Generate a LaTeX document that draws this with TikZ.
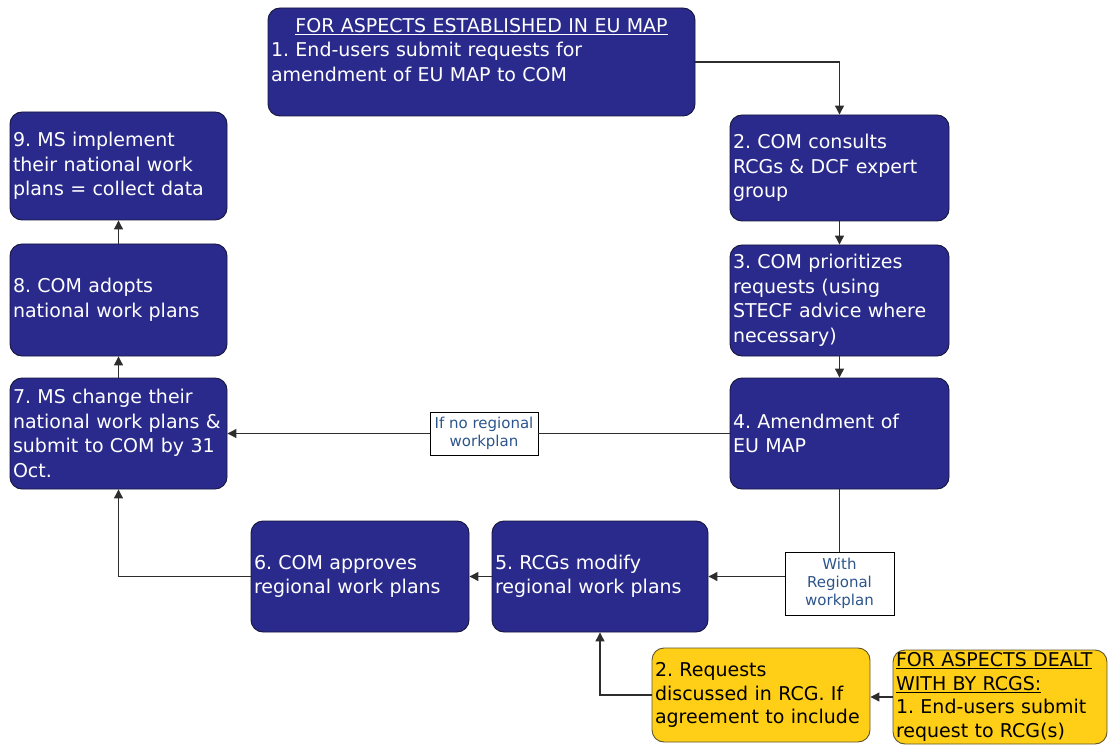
\documentclass[tikz,border=0pt]{standalone}
\usepackage{fontspec}
\setmainfont{DejaVu Sans}
\usetikzlibrary{arrows.meta}
\frenchspacing

\definecolor{mapblue}{RGB}{42,42,140}
\definecolor{mapedge}{RGB}{22,22,60}
\definecolor{rcgyellow}{RGB}{255,206,22}
\definecolor{rcgedge}{RGB}{95,85,45}
\definecolor{lbltext}{RGB}{45,85,140}
\definecolor{flowline}{RGB}{45,45,45}

\tikzset{
	stepblue/.style={draw=mapedge, line width=0.9pt, fill=mapblue, text=white, rounded corners=12pt,
		align=left, inner xsep=3pt, inner ysep=0pt, font=\fontsize{19}{24.5}\selectfont},
	stepyellow/.style={draw=rcgedge, line width=0.9pt, fill=rcgyellow, text=black, rounded corners=12pt,
		align=left, inner xsep=3pt, inner ysep=0pt, font=\fontsize{19}{23.5}\selectfont},
	lblbox/.style={draw=black, line width=0.9pt, fill=white, text=lbltext, align=center,
		inner sep=1pt, font=\fontsize{15}{18}\selectfont},
	flow/.style={draw=flowline, line width=1.2pt, -{Triangle[length=9pt,width=9pt]}},
	plainflow/.style={draw=flowline, line width=1.2pt}
}

\begin{document}
\begin{tikzpicture}[x=1pt, y=-1pt]
			%%%%% START %%%%%
			\useasboundingbox (0, 0) rectangle (1109, 746);
			
			\node[stepblue, minimum width=427pt, minimum height=108pt, text width=421pt] (b1) at (481.5, 62)
				{\makebox[\linewidth]{\underline{FOR ASPECTS ESTABLISHED IN EU MAP}}\\ 1. End-users submit requests for\\ amendment of EU MAP to COM\\ \mbox{}};
			
			\node[stepblue, minimum width=219pt, minimum height=106pt, text width=213pt] (b2) at (839.5, 168)
				{2. COM consults\\ RCGs \& DCF expert\\ group};
			\node[stepblue, minimum width=219pt, minimum height=111pt, text width=213pt] (b3) at (839.5, 300.5)
				{3. COM prioritizes\\ requests (using\\ STECF advice where\\ necessary)};
			\node[stepblue, minimum width=219pt, minimum height=111pt, text width=213pt] (b4) at (839.5, 433.5)
				{4. Amendment of\\ EU MAP};
			
			\node[stepblue, minimum width=216pt, minimum height=111pt, text width=210pt] (b5) at (600, 576.5)
				{5. RCGs modify\\ regional work plans};
			\node[stepblue, minimum width=218pt, minimum height=111pt, text width=212pt] (b6) at (360, 576.5)
				{6. COM approves\\ regional work plans};
			
			\node[stepblue, minimum width=217pt, minimum height=111pt, text width=211pt] (b7) at (118.5, 433.5)
				{7. MS change their\\ national work plans \&\\ submit to COM by 31\\ Oct.};
			\node[stepblue, minimum width=217pt, minimum height=112pt, text width=211pt] (b8) at (118.5, 300)
				{8. COM adopts\\ national work plans};
			\node[stepblue, minimum width=217pt, minimum height=108pt, text width=211pt] (b9) at (118.5, 166)
				{9. MS implement\\ their national work\\ plans = collect data};
			
			\node[stepyellow, minimum width=218pt, minimum height=94pt, text width=212pt] (y2) at (761, 695)
				{2. Requests\\ discussed in RCG. If\\ agreement to include};
			\node[stepyellow, minimum width=214pt, minimum height=94pt, text width=208pt] (y1) at (1000, 697)
				{\underline{FOR ASPECTS DEALT}\\ \underline{WITH BY RCGS:}\\ 1. End-users submit\\ request to RCG(s)};
			
			\node[lblbox, minimum width=108pt, minimum height=43pt] (nolbl) at (484, 433.5)
				{If no regional\\ workplan};
			\node[lblbox, minimum width=109pt, minimum height=63pt] (withlbl) at (839.5, 583.5)
				{With\\ Regional\\ workplan};
			
			%% connectors
			\draw[flow] (b1.east) -| (b2.north);
			\draw[flow] (b2.south) -- (b3.north);
			\draw[flow] (b3.south) -- (b4.north);
			\draw[plainflow] (b4.west) -- (nolbl.east);
			\draw[flow] (nolbl.west) -- (b7.east);
			\draw[plainflow] (b4.south) -- (withlbl.north);
			\draw[flow] (withlbl.west |- b5.east) -- (b5.east);
			\draw[flow] (b5.west) -- (b6.east);
			\draw[flow] (b6.west) -| (b7.south);
			\draw[flow] (b7.north) -- (b8.south);
			\draw[flow] (b8.north) -- (b9.south);
			\draw[flow] (y2.west) -| (b5.south);
			\draw[flow] (y1.west) -- (y1.west -| y2.east);
			
			%%%%% END %%%%%
\end{tikzpicture}
\end{document}
